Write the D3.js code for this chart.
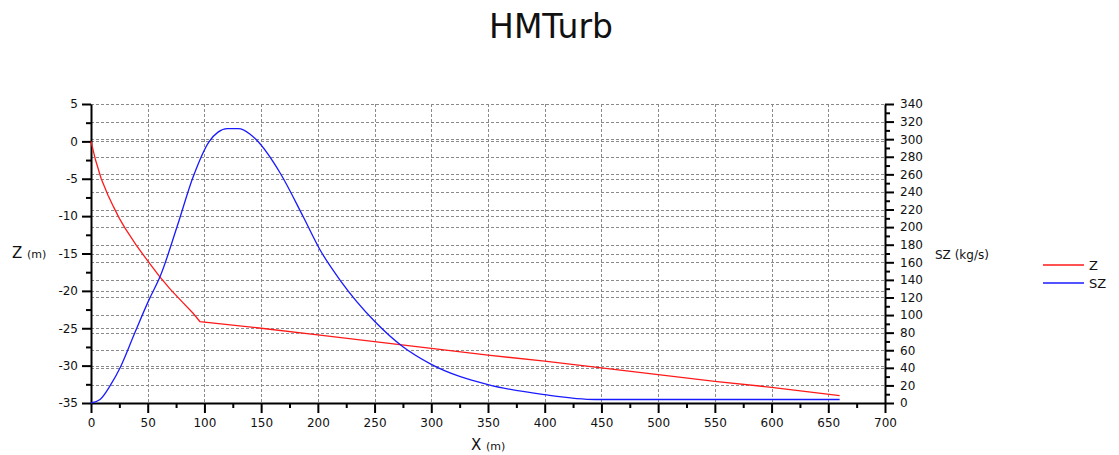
<!DOCTYPE html>
<html>
<head>
<meta charset="utf-8">
<script src="https://cdn.jsdelivr.net/npm/d3@7"></script>
<style>
  body { margin: 0; background: #fff; }
  text { font-family: "DejaVu Sans", sans-serif; fill: #111; }
</style>
</head>
<body>
<svg id="chart" width="1119" height="455"></svg>
<script>
// series
const zX = [0, 4, 9, 15, 20, 25, 30, 40, 50, 60, 70, 80, 90, 96, 150, 200, 250, 300, 350, 400, 450, 500, 550, 600, 660];
const zVals = [0, -2.5, -5.0, -7.2, -8.8, -10.3, -11.6, -13.9, -16.0, -18.0, -19.8, -21.4, -23.0, -24.1, -25.0, -25.9, -26.8, -27.7, -28.6, -29.4, -30.3, -31.2, -32.1, -32.9, -34.0];

const szX = [0, 8, 17, 26, 39, 51, 61, 76, 90, 104, 112, 120, 130, 140, 146, 167, 187, 202, 220, 250, 275, 300, 350, 400, 445, 500, 550, 600, 660];
const szVals = [0, 4, 20, 41, 81, 117, 144, 201, 257, 297, 308, 312, 312, 306, 299, 261, 212, 174, 139, 93, 64, 44, 21, 9.5, 4, 4, 4, 4, 4];

const xTicks = d3.range(0, 701, 50);
const zTicks = d3.range(-35, 5.1, 5);
const szTicks = d3.range(0, 341, 20);

const seriesNames = ["Z", "SZ"];
const seriesColors = ["#ff1a1a", "#1a1aff"];

const svg = d3.select("#chart");
const plotLeft = 91, plotRight = 885, plotTop = 104, plotBottom = 403;

const X = d3.scaleLinear().domain([0, 700]).range([plotLeft, plotRight]);
const Y = d3.scaleLinear().domain([-35, 5]).range([plotBottom, plotTop]);
const Y2 = d3.scaleLinear().domain([0, 340]).range([plotBottom, plotTop]);

// title
svg.append("text")
    .attr("x", 551).attr("y", 38)
    .attr("text-anchor", "middle")
    .style("font-size", "33px")
    .text("HMTurb");

// grid lines
const grid = svg.append("g").attr("stroke", "#8a8a8a").attr("stroke-dasharray", "3,2").attr("stroke-width", 1);
xTicks.filter(d => d > 0 && d < 700).forEach(function (d) {
    grid.append("line")
        .attr("x1", Math.round(X(d)) + 0.5).attr("x2", Math.round(X(d)) + 0.5)
        .attr("y1", plotTop).attr("y2", plotBottom);
});
zTicks.filter(d => d > -35).forEach(function (d) {
    grid.append("line")
        .attr("x1", plotLeft).attr("x2", plotRight)
        .attr("y1", Math.round(Y(d)) + 0.5).attr("y2", Math.round(Y(d)) + 0.5);
});
szTicks.filter(d => d > 0).forEach(function (d) {
    grid.append("line")
        .attr("x1", plotLeft).attr("x2", plotRight)
        .attr("y1", Math.round(Y2(d)) + 0.5).attr("y2", Math.round(Y2(d)) + 0.5);
});

function styleAxis(g) {
    g.selectAll("path").attr("stroke", "#000").attr("stroke-width", 2);
    g.selectAll("line").attr("stroke", "#000").attr("stroke-width", 2);
    g.selectAll("text").style("font-size", "12px").attr("fill", "#111");
}

// minor ticks
svg.append("g").attr("transform", `translate(${plotLeft},0)`)
    .call(d3.axisLeft(Y).tickValues(d3.range(-32.5, 5, 5)).tickSize(5).tickFormat(""))
    .call(styleAxis).select("path").remove();
svg.append("g").attr("transform", `translate(${plotRight},0)`)
    .call(d3.axisRight(Y2).tickValues(d3.range(10, 340, 20)).tickSize(5).tickFormat(""))
    .call(styleAxis).select("path").remove();
svg.append("g").attr("transform", `translate(0,${plotBottom})`)
    .call(d3.axisBottom(X).tickValues(d3.range(25, 700, 50)).tickSize(5).tickFormat(""))
    .call(styleAxis).select("path").remove();

// major axes
svg.append("g").attr("transform", `translate(${plotLeft},0)`)
    .call(d3.axisLeft(Y).tickValues(zTicks).tickSize(9).tickSizeOuter(0).tickPadding(4).tickFormat(d => String(d)))
    .call(styleAxis);
svg.append("g").attr("transform", `translate(${plotRight},0)`)
    .call(d3.axisRight(Y2).tickValues(szTicks).tickSize(9).tickSizeOuter(0).tickPadding(6).tickFormat(d3.format("d")))
    .call(styleAxis);
svg.append("g").attr("transform", `translate(0,${plotBottom})`)
    .call(d3.axisBottom(X).tickValues(xTicks).tickSize(10).tickSizeOuter(0).tickPadding(5).tickFormat(d3.format("d")))
    .call(styleAxis);

// axis titles
const zl = svg.append("text").attr("x", 12).attr("y", 258);
zl.append("tspan").style("font-size", "15px").text("Z ");
zl.append("tspan").style("font-size", "11px").text("(m)");

const xl = svg.append("text").attr("x", 471).attr("y", 450);
xl.append("tspan").style("font-size", "15px").text("X ");
xl.append("tspan").style("font-size", "11px").text("(m)");

svg.append("text").attr("x", 935).attr("y", 259)
    .style("font-size", "12px").text("SZ (kg/s)");

// curves
const lineZ = d3.line().x((d, i) => X(zX[i])).y(d => Y(d));
const lineSZ = d3.line().x((d, i) => X(szX[i])).y(d => Y2(d)).curve(d3.curveMonotoneX);

svg.append("path").datum(zVals)
    .attr("d", lineZ)
    .attr("fill", "none").attr("stroke", seriesColors[0]).attr("stroke-width", 1.3);
svg.append("path").datum(szVals)
    .attr("d", lineSZ)
    .attr("fill", "none").attr("stroke", seriesColors[1]).attr("stroke-width", 1.3);

// legend
const legend = svg.append("g");
seriesNames.forEach(function (name, i) {
    const ly = 265 + i * 18;
    legend.append("line")
        .attr("x1", 1043).attr("x2", 1084)
        .attr("y1", ly).attr("y2", ly)
        .attr("stroke", seriesColors[i]).attr("stroke-width", 1.3);
    legend.append("text")
        .attr("x", 1089).attr("y", ly + 5)
        .style("font-size", "13px")
        .text(name);
});
</script>
</body>
</html>
